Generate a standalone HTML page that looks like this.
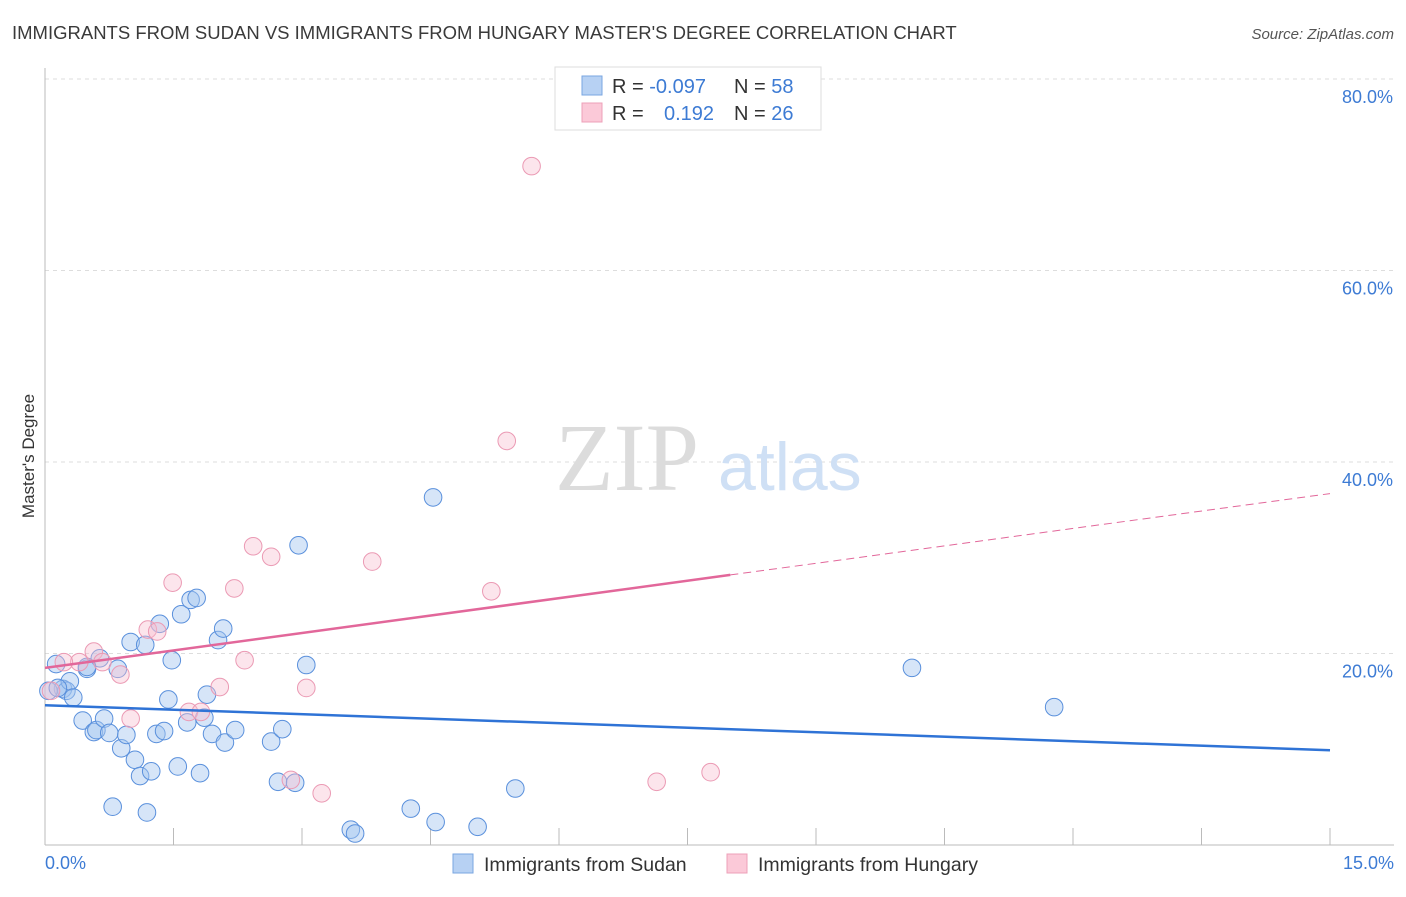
<!DOCTYPE html>
<html><head><meta charset="utf-8"><style>
body{margin:0;background:#fff;font-family:"Liberation Sans",sans-serif}
</style></head><body>
<svg id="chart" width="1406" height="892" viewBox="0 0 1406 892">
<text x="12" y="39" font-size="18.5" fill="#3a3a3a">IMMIGRANTS FROM SUDAN VS IMMIGRANTS FROM HUNGARY MASTER'S DEGREE CORRELATION CHART</text>
<text x="1394" y="39" font-size="15" fill="#555" font-style="italic" text-anchor="end">Source: ZipAtlas.com</text>
<g id="grid"></g>
<text x="555" y="490" font-size="96" font-family="Liberation Serif,serif" fill="#dcdcdc">ZIP</text>
<text x="718" y="490" font-size="68" fill="#cfe0f5">atlas</text>
<line x1="45" y1="68" x2="45" y2="845" stroke="#bbb"/>
<line x1="45" y1="845" x2="1394" y2="845" stroke="#bbb"/>
<text transform="translate(34,456) rotate(-90)" font-size="17" fill="#333" text-anchor="middle">Master's Degree</text>
<text x="45" y="869" font-size="18" fill="#3d7bd4">0.0%</text>
<text x="1394" y="869" font-size="18" fill="#3d7bd4" text-anchor="end">15.0%</text>
<g id="marks"></g>
<g>
<rect x="555" y="67" width="266" height="63" fill="#fff" stroke="#ddd"/>
<rect x="582" y="76" width="20" height="19" fill="#b7d1f3" stroke="#7aa6e0"/>
<rect x="582" y="103" width="20" height="19" fill="#fbc9d8" stroke="#eea0b8"/>
<text x="612" y="93" font-size="20" fill="#333">R = <tspan fill="#3d7bd4">-0.097</tspan><tspan x="734">N = </tspan><tspan fill="#3d7bd4">58</tspan></text>
<text x="612" y="120" font-size="20" fill="#333">R = <tspan x="664" fill="#3d7bd4">0.192</tspan><tspan x="734">N = </tspan><tspan fill="#3d7bd4">26</tspan></text>
</g>
<g>
<rect x="453" y="854" width="20" height="19" fill="#b7d1f3" stroke="#7aa6e0"/>
<text x="484" y="871" font-size="19.5" fill="#333">Immigrants from Sudan</text>
<rect x="727" y="854" width="20" height="19" fill="#fbc9d8" stroke="#eea0b8"/>
<text x="758" y="871" font-size="19.5" fill="#333">Immigrants from Hungary</text>
</g>
</svg>
<script>
const yTicks=[20,40,60,80];
const xTicks=[0,1.5,3,4.5,6,7.5,9,10.5,12,13.5,15];
const sudanX=[0.13,0.21,0.25,0.29,0.33,0.49,0.44,0.57,0.60,0.64,0.69,0.75,0.85,0.89,0.95,1.00,1.05,1.11,1.17,1.24,1.30,1.34,1.39,1.44,1.48,1.55,1.59,1.66,1.70,1.77,1.81,1.86,1.89,1.95,2.02,2.08,2.10,2.22,2.64,2.72,2.77,2.92,2.96,3.05,3.57,3.62,4.27,4.53,4.56,5.05,5.49,10.12,11.78,0.79,1.19,0.49,0.04,0.15];
const sudanY=[18.9,16.3,16.1,17.1,15.4,18.4,13.0,11.8,12.0,19.5,13.2,11.7,18.4,10.1,11.5,21.2,8.9,7.2,20.9,7.7,11.6,23.1,11.9,15.2,19.3,8.2,24.1,12.8,25.6,25.8,7.5,13.3,15.7,11.6,21.4,22.6,10.7,12.0,10.8,6.6,12.1,6.5,31.3,18.8,1.6,1.2,3.8,36.3,2.4,1.9,5.9,18.5,14.4,4.0,3.4,18.6,16.1,16.4];
const hungaryX=[5.68,5.39,2.43,2.64,3.82,1.49,2.21,5.21,1.20,1.31,0.57,0.40,0.67,2.33,0.88,0.07,2.04,3.05,1.68,1.82,1.00,2.87,3.23,7.14,7.77,0.22];
const hungaryY=[70.9,42.2,31.2,30.1,29.6,27.4,26.8,26.5,22.5,22.3,20.2,19.1,19.1,19.3,17.8,16.1,16.5,16.4,13.9,13.9,13.2,6.8,5.4,6.6,7.6,19.1];
const sudanTrend=[14.6,9.9];
const hungaryTrend=[18.5,36.7];
const hungarySolidEnd=8.0;
const X=v=>45+v*(1285/15), Y=v=>845-v*9.575;
const NS='http://www.w3.org/2000/svg';
function mk(t,a,p){const e=document.createElementNS(NS,t);for(const k in a)e.setAttribute(k,a[k]);p.appendChild(e);return e;}
const grid=document.getElementById('grid'), marks=document.getElementById('marks');
yTicks.forEach(t=>{
 const l=mk('line',{x1:45,x2:1394,y1:Y(t),y2:Y(t),stroke:'#ddd','stroke-dasharray':'4,4'},grid);
 
 
 const tx=mk('text',{x:1393,y:Y(t)+24,'font-size':18,fill:'#3d7bd4','text-anchor':'end'},grid);
 tx.textContent=t.toFixed(1)+'%';
 
 
});
xTicks.forEach(t=>{
 const l=mk('line',{x1:X(t),x2:X(t),y1:828,y2:845,stroke:'#bbb'},grid);
 
 
});
function pts(xs,ys,fill,stroke,name){
 xs.forEach((x,i)=>{
  const c=mk('circle',{cx:X(x),cy:Y(ys[i]),r:8.8,fill:fill,stroke:stroke,'stroke-width':1},marks);
  
  
 });
}
pts(sudanX,sudanY,'rgba(165,198,240,0.45)','#5a90dc','sudan-point');
pts(hungaryX,hungaryY,'rgba(248,190,208,0.4)','#eb9ab4','hungary-point');
const bl=mk('line',{x1:X(0),y1:Y(sudanTrend[0]),x2:X(15),y2:Y(sudanTrend[1]),stroke:'#2f73d6','stroke-width':2.5},marks);


const hy=x=>hungaryTrend[0]+(hungaryTrend[1]-hungaryTrend[0])*x/15;
const hl=mk('line',{x1:X(0),y1:Y(hy(0)),x2:X(hungarySolidEnd),y2:Y(hy(hungarySolidEnd)),stroke:'#e2679a','stroke-width':2.5},marks);


const hd=mk('line',{x1:X(hungarySolidEnd),y1:Y(hy(hungarySolidEnd)),x2:X(15),y2:Y(hy(15)),stroke:'#e2679a','stroke-width':1,'stroke-dasharray':'8,5'},marks);


</script>
</body></html>
